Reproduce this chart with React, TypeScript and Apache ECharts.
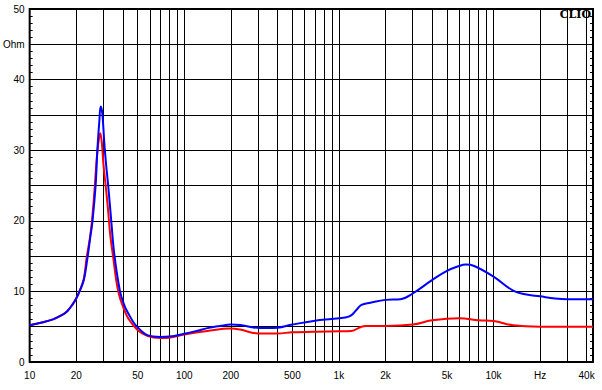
import React, { useEffect, useRef } from "react";
import * as echarts from "echarts";

// Blue trace (impedance, Ohm) vs frequency (Hz)
const freqBlue = [10, 12, 14, 16, 17.5, 19, 20, 21, 22.4, 23.6, 24.6, 25.5, 26.7, 27.4, 28.2, 28.8, 29.5, 30.4, 31.2, 32.2, 33.7, 35.3, 38.4, 41, 43.9, 47, 50, 54, 57.6, 63, 70, 80, 100, 120, 141, 170, 200, 230, 280, 350, 400, 500, 700, 900, 1100, 1200, 1300, 1400, 1600, 2000, 2500, 3000, 4000, 5000, 6000, 6600, 7500, 10000, 13400, 16000, 20000, 25000, 30000, 44000];
const blueOhm = [5.2, 5.6, 6.0, 6.6, 7.2, 8.2, 9.0, 10.0, 11.6, 14.6, 17.5, 20.0, 25.0, 30.0, 34.0, 36.2, 35.2, 31.0, 28.0, 25.0, 20.0, 15.2, 10.0, 8.0, 6.7, 5.6, 4.9, 4.2, 3.8, 3.6, 3.55, 3.6, 4.0, 4.4, 4.8, 5.1, 5.3, 5.25, 4.9, 4.8, 4.85, 5.3, 5.85, 6.1, 6.3, 6.6, 7.4, 8.1, 8.4, 8.8, 8.9, 9.7, 11.6, 12.9, 13.6, 13.8, 13.6, 12.1, 10.1, 9.6, 9.3, 9.0, 8.9, 8.9];

// Red trace
const freqRed = [10, 12, 14, 16, 17.5, 19, 20, 21, 22.4, 23.3, 24.5, 25.3, 26.4, 27.2, 28.0, 28.6, 29.3, 30.0, 31.0, 32.0, 33.2, 34.6, 37.4, 41, 43.9, 50, 57.6, 70, 80, 100, 141, 200, 230, 300, 400, 500, 700, 1000, 1200, 1400, 1500, 2000, 3000, 4000, 6000, 8000, 10000, 13400, 20000, 44000];
const redOhm = [5.2, 5.6, 6.0, 6.6, 7.2, 8.2, 9.0, 10.0, 11.8, 14.6, 17.5, 20.0, 25.0, 29.0, 31.5, 32.4, 31.0, 28.0, 25.0, 22.0, 18.0, 15.0, 10.0, 7.3, 6.0, 4.5, 3.7, 3.4, 3.45, 3.9, 4.4, 4.75, 4.6, 4.05, 4.05, 4.2, 4.3, 4.35, 4.4, 5.0, 5.1, 5.1, 5.3, 5.9, 6.2, 5.9, 5.8, 5.2, 5.0, 5.0];

// Axis definitions
const xMin = 10;
const xMax = 44000;
const xGridFreqs = [20, 30, 40, 50, 60, 70, 80, 90, 100, 200, 300, 400, 500, 600, 700, 800, 900, 1000, 2000, 3000, 4000, 5000, 6000, 7000, 8000, 9000, 10000, 20000, 30000, 40000];
const xTickFreqs = [10, 20, 50, 100, 200, 500, 1000, 2000, 5000, 10000, 20000, 40000];
const xTickLabels = ["10", "20", "50", "100", "200", "500", "1k", "2k", "5k", "10k", "Hz", "40k"];
const yLabeledValues = [0, 10, 20, 30, 40, 50];
const yUnitValue = 45;
const yUnitLabel = "Ohm";
const brandText = "CLIO";

export default function App() {
  const ref = useRef<HTMLDivElement>(null);

  useEffect(() => {
    if (!ref.current) return;
    const chart = echarts.init(ref.current, null, { renderer: "svg" });
    const font = "'Liberation Sans', Arial, sans-serif";

    const yAxisBase = {
      type: "value" as const,
      min: 0,
      max: 50,
      interval: 5,
      axisLine: { show: false },
      axisTick: { show: true, inside: true, length: 4, lineStyle: { color: "#000", width: 1 } },
      minorTick: { show: true, splitNumber: 5, length: 3, lineStyle: { color: "#000", width: 1 } },
    };

    chart.setOption({
      animation: false,
      backgroundColor: "#fff",
      grid: {
        left: 29,
        right: 9,
        top: 9,
        bottom: 28,
        show: true,
        borderColor: "#000",
        borderWidth: 2,
        backgroundColor: "#fff",
      },
      xAxis: {
        type: "log",
        logBase: 10,
        min: xMin,
        max: xMax,
        axisLine: { show: false },
        axisTick: { show: false },
        axisLabel: { show: false },
        splitLine: { show: false },
      },
      yAxis: [
        {
          ...yAxisBase,
          position: "left",
          splitLine: { show: true, lineStyle: { color: "#000", width: 1 } },
          axisLabel: {
            color: "#000",
            fontSize: 10,
            fontFamily: font,
            margin: 5,
            formatter: (v: number) =>
              yLabeledValues.includes(v) ? String(v) : v === yUnitValue ? yUnitLabel : "",
          },
        },
        {
          ...yAxisBase,
          position: "right",
          splitLine: { show: false },
          axisLabel: { show: false },
        },
      ],
      graphic: [
        {
          type: "text",
          right: 11,
          top: 9,
          style: {
            text: brandText,
            fill: "#000",
            font: "bold 11px 'DejaVu Serif', 'Liberation Serif', serif",
          },
        },
      ],
      series: [
        {
          type: "line",
          name: "red",
          data: freqRed.map((f, i) => [f, redOhm[i]]),
          showSymbol: false,
          symbol: "none",
          smooth: 0.4,
          z: 2,
          lineStyle: { color: "#ff0000", width: 2 },
          silent: true,
          markLine: {
            z: 1,
            silent: true,
            animation: false,
            symbol: ["none", "none"],
            lineStyle: { color: "#000", width: 1, type: "solid" },
            label: { show: false },
            emphasis: { disabled: true },
            data: [
              ...xGridFreqs.map((f) => ({ xAxis: f })),
              ...xTickFreqs.map((f, i) => ({
                xAxis: f,
                label: {
                  show: true,
                  position: "start",
                  distance: 8,
                  formatter: xTickLabels[i],
                  color: "#000",
                  fontSize: 10,
                  fontFamily: font,
                },
              })),
            ],
          },
        },
        {
          type: "line",
          name: "blue",
          data: freqBlue.map((f, i) => [f, blueOhm[i]]),
          showSymbol: false,
          symbol: "none",
          smooth: 0.4,
          z: 3,
          lineStyle: { color: "#0000ff", width: 2 },
          silent: true,
        },
      ],
    });

    return () => chart.dispose();
  }, []);

  return <div ref={ref} style={{ width: 602, height: 390, position: "absolute", left: 0, top: 0 }} />;
}
